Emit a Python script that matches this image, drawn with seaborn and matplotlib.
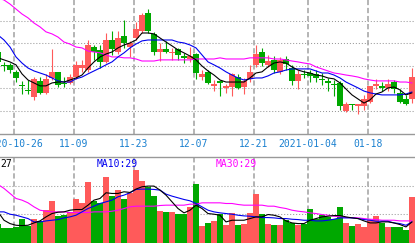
import numpy as np
import pandas as pd
import matplotlib
matplotlib.use("Agg")
import matplotlib.pyplot as plt
import seaborn as sns
from matplotlib.transforms import blended_transform_factory

# ---------------- data ----------------
dates = [d for d in pd.bdate_range("2020-10-21", "2021-01-27") if d != pd.Timestamp("2021-01-01")]

label_dates = ["2020-10-26", "2020-11-09", "2020-11-23", "2020-12-07",
               "2020-12-21", "2021-01-04", "2021-01-18"]
label_texts = ["2020-10-26", "11-09", "11-23", "12-07", "12-21", "2021-01-04", "01-18"]

open_ = [12.61, 12.04, 12.04, 11.73, 11.15, 10.93, 10.62, 11.33, 10.80, 11.46,
         11.73, 11.24, 11.24, 11.50, 11.90, 11.81, 12.83, 12.70, 12.17, 13.14,
         12.61, 13.32, 12.83, 13.23, 13.54, 14.34, 13.41, 12.61, 12.74, 12.57,
         12.74, 12.43, 12.30, 12.52, 11.50, 11.73, 11.11, 11.33, 11.02, 11.06,
         11.50, 11.06, 11.42, 12.04, 12.61, 12.04, 12.26, 11.73, 12.30, 11.90,
         11.33, 11.64, 11.68, 11.64, 11.42, 11.33, 11.19, 11.24, 10.00, 10.31,
         10.22, 10.22, 10.40, 11.11, 11.11, 11.02, 11.28, 10.80, 10.53, 10.53]
close_ = [12.17, 11.99, 11.81, 11.46, 11.11, 10.88, 11.42, 10.80, 11.42, 11.73,
          11.15, 11.19, 11.50, 12.04, 12.04, 12.92, 12.61, 12.17, 13.14, 12.74,
          13.23, 13.01, 13.01, 13.63, 14.25, 13.54, 12.61, 12.74, 12.61, 12.61,
          12.48, 12.35, 12.43, 11.68, 11.64, 11.24, 11.19, 11.24, 11.11, 11.64,
          11.02, 11.33, 11.73, 12.52, 12.12, 12.21, 11.81, 12.26, 12.08, 11.33,
          11.64, 11.59, 11.55, 11.46, 11.37, 11.24, 11.15, 10.22, 10.31, 10.27,
          10.31, 10.53, 11.11, 11.19, 11.02, 11.19, 10.97, 10.40, 10.31, 11.50]
high_ = [12.70, 12.17, 12.12, 11.81, 11.33, 11.37, 11.50, 11.50, 11.64, 12.74,
         11.73, 11.50, 11.64, 12.21, 12.26, 13.14, 12.92, 12.92, 13.45, 13.54,
         13.54, 14.03, 13.10, 13.94, 14.34, 14.51, 13.50, 13.01, 13.10, 12.79,
         12.79, 12.57, 12.83, 12.57, 11.81, 11.81, 11.37, 11.37, 11.19, 11.68,
         11.64, 11.46, 12.04, 12.92, 12.79, 12.48, 12.43, 12.39, 12.43, 12.04,
         11.81, 11.81, 11.81, 11.81, 11.68, 11.46, 11.37, 11.33, 10.40, 10.31,
         10.31, 10.71, 11.11, 11.42, 11.28, 11.42, 11.37, 10.97, 10.71, 11.90]
low_ = [12.08, 11.77, 11.68, 11.28, 10.75, 10.75, 10.49, 10.75, 10.75, 11.37,
        11.06, 11.06, 11.19, 11.42, 11.73, 11.73, 12.26, 11.90, 12.12, 12.48,
        12.52, 12.79, 12.39, 13.14, 13.45, 13.45, 12.48, 12.21, 12.57, 12.26,
        12.26, 12.12, 12.17, 11.42, 11.37, 11.19, 10.88, 10.66, 10.80, 10.66,
        10.97, 10.75, 11.28, 11.95, 11.99, 11.95, 11.68, 11.64, 11.81, 11.15,
        10.97, 11.46, 11.28, 11.28, 11.15, 10.88, 10.66, 10.04, 9.96, 10.04,
        9.87, 10.04, 10.35, 10.97, 10.88, 10.88, 10.80, 10.35, 10.27, 10.35]

ma5 = [12.35, 12.26, 12.17, 12.04, 11.64, 11.37, 11.24, 11.11, 11.11, 11.24,
       11.28, 11.28, 11.37, 11.46, 11.59, 11.90, 12.17, 12.39, 12.52, 12.61,
       12.79, 12.92, 13.01, 13.14, 13.45, 13.45, 13.41, 13.23, 13.05, 12.88,
       12.70, 12.57, 12.43, 12.26, 11.99, 11.77, 11.59, 11.37, 11.28, 11.28,
       11.28, 11.28, 11.46, 11.68, 11.73, 11.95, 12.12, 12.17, 12.12, 11.95,
       11.81, 11.73, 11.68, 11.59, 11.55, 11.46, 11.42, 11.24, 10.97, 10.71,
       10.53, 10.35, 10.49, 10.75, 10.84, 11.02, 11.06, 10.93, 10.71, 10.80]
ma10 = [13.36, 13.14, 12.83, 12.39, 12.12, 11.90, 11.77, 11.68, 11.59, 11.46,
        11.33, 11.28, 11.28, 11.42, 11.50, 11.64, 11.77, 11.90, 12.04, 12.17,
        12.39, 12.57, 12.79, 12.96, 13.10, 13.14, 13.14, 13.14, 13.14, 13.14,
        13.05, 13.01, 12.92, 12.79, 12.48, 12.17, 12.04, 11.90, 11.73, 11.59,
        11.46, 11.37, 11.42, 11.46, 11.46, 11.55, 11.68, 11.73, 11.81, 11.86,
        11.86, 11.86, 11.86, 11.77, 11.68, 11.68, 11.59, 11.46, 11.28, 11.15,
        11.02, 10.88, 10.80, 10.75, 10.71, 10.71, 10.71, 10.71, 10.75, 10.84]
ma30 = [15.00, 14.91, 14.73, 14.51, 14.29, 14.12, 13.89, 13.72, 13.50, 13.41,
        13.27, 13.05, 12.96, 12.83, 12.79, 12.65, 12.61, 12.57, 12.48, 12.39,
        12.39, 12.35, 12.35, 12.30, 12.21, 12.21, 12.21, 12.26, 12.26, 12.26,
        12.26, 12.26, 12.26, 12.30, 12.30, 12.30, 12.30, 12.35, 12.30, 12.30,
        12.30, 12.30, 12.35, 12.35, 12.35, 12.35, 12.30, 12.30, 12.26, 12.21,
        12.17, 12.12, 12.08, 11.95, 11.86, 11.77, 11.68, 11.64, 11.59, 11.55,
        11.50, 11.42, 11.37, 11.33, 11.33, 11.33, 11.33, 11.28, 11.28, 11.24]

vol = [56, 46, 44, 48, 71, 50, 71, 65, 98, 125,
       80, 83, 93, 131, 118, 182, 126, 118, 198, 140,
       158, 131, 148, 218, 185, 168, 140, 95, 93, 93,
       86, 88, 108, 176, 50, 60, 66, 86, 53, 90,
       53, 58, 90, 145, 86, 56, 53, 53, 68, 60,
       53, 56, 101, 71, 83, 78, 73, 107, 60, 50,
       56, 48, 68, 80, 60, 48, 48, 48, 40, 138]
vma5 = [93, 68, 58, 53, 52, 53, 60, 66, 78, 88,
        92, 93, 98, 100, 100, 113, 128, 133, 150, 148,
        148, 153, 151, 161, 168, 170, 170, 158, 143, 123,
        103, 90, 98, 113, 103, 88, 86, 83, 63, 68,
        68, 68, 73, 78, 78, 85, 83, 78, 66, 60,
        58, 58, 68, 73, 78, 80, 82, 82, 78, 75,
        73, 66, 60, 60, 63, 63, 60, 55, 48, 63]
vma10 = [93, 93, 86, 83, 78, 73, 63, 63, 66, 68,
         70, 75, 78, 83, 93, 103, 110, 118, 123, 128,
         138, 143, 150, 160, 161, 161, 160, 158, 146, 140,
         135, 130, 126, 118, 108, 98, 93, 90, 88, 86,
         83, 81, 80, 78, 76, 76, 75, 73, 73, 71,
         70, 68, 68, 66, 66, 68, 71, 75, 75, 75,
         73, 70, 68, 65, 65, 65, 60, 58, 53, 63]
vma30 = [175, 163, 148, 133, 128, 120, 108, 98, 95, 93,
         93, 93, 91, 91, 91, 91, 93, 93, 93, 95,
         98, 103, 108, 110, 110, 110, 110, 112, 113, 113,
         113, 113, 116, 116, 120, 120, 120, 120, 118, 118,
         115, 113, 113, 113, 113, 110, 110, 106, 103, 98,
         95, 93, 90, 88, 85, 83, 80, 78, 76, 76,
         75, 73, 71, 70, 68, 68, 68, 66, 66, 66]

vol_labels = ["27", "MA10:29", "MA30:29"]

# ---------------- style ----------------
sns.set_style("white")
plt.rcParams['font.family'] = ['DejaVu Sans Mono', 'DejaVu Sans']
plt.rcParams['lines.scale_dashes'] = False

RED, GREEN = '#ff5a5a', '#00a800'
BLUE, MAGENTA, BLACK = '#0000f0', '#ff00ff', '#000000'
DATE_BLUE = '#1a80d0'
GRID = '#9a9a9a'
VGRID = '#a8a8a8'

n = len(open_)
idx = np.arange(n)
o = np.array(open_); c = np.array(close_)
up = c >= o
cols = np.where(up, RED, GREEN)
date_pos = [dates.index(pd.Timestamp(d)) - 1/3 for d in label_dates]

W, H = 415, 243
fig = plt.figure(figsize=(W / 100, H / 100), dpi=100)
fig.patch.set_facecolor('white')
ax1 = fig.add_axes([0, (H - 134) / H, 1, 134 / H])
ax2 = fig.add_axes([0, 0, 1, (H - 157.3) / H])
xlim = (1 / 3, 69.5)


def grid(ax, hvals):
    for g in hvals:
        ax.axhline(g, color=GRID, lw=0.75, ls=(0, (0.75, 1.4)), zorder=1, snap=True)
    for d in date_pos:
        ax.axvline(d, color=VGRID, lw=1.2, ls=(0, (3.8, 2.0)), zorder=1, snap=True)


# ---------------- price panel ----------------
grid(ax1, [10, 11, 12, 13, 14])

ax1.vlines(idx, low_, high_, colors=cols, lw=0.8, zorder=2)
body_lo = np.minimum(o, c)
body_h = np.maximum(np.abs(c - o), 0.045)
ax1.bar(idx, body_h, bottom=body_lo, width=0.84, color=cols, linewidth=0, zorder=3)

for series, col in [(ma30, MAGENTA), (ma10, BLUE), (ma5, BLACK)]:
    sns.lineplot(x=idx, y=series, color=col, lw=0.8, ax=ax1, zorder=4, errorbar=None)

ax1.set_xlim(*xlim)
ax1.set_ylim(8.98, 14.91)
ax1.set_xticks([]); ax1.set_yticks([])
ax1.set_xlabel(''); ax1.set_ylabel('')
for s in ['top', 'left', 'right']:
    ax1.spines[s].set_visible(False)
ax1.spines['bottom'].set_color('#999999')
ax1.spines['bottom'].set_linewidth(1.0)

tr = blended_transform_factory(ax1.transData, ax1.transAxes)
for d, t in zip(date_pos, label_texts):
    ax1.text(d, -0.097, t, transform=tr, ha='center', va='baseline',
             color=DATE_BLUE, fontsize=7, clip_on=False)

# ---------------- volume panel ----------------
grid(ax2, [86, 171])

vdf = pd.DataFrame({'i': idx, 'vol': vol, 'dir': np.where(up, 'up', 'down')})
sns.barplot(data=vdf, x='i', y='vol', hue='dir', palette={'up': RED, 'down': GREEN},
            native_scale=True, dodge=False, width=0.84, errorbar=None, legend=False,
            saturation=1, linewidth=0, ax=ax2, zorder=2)

for series, col in [(vma30, MAGENTA), (vma10, BLUE), (vma5, BLACK)]:
    sns.lineplot(x=idx, y=series, color=col, lw=0.8, ax=ax2, zorder=4, errorbar=None)

ax2.set_xlim(*xlim)
ax2.set_ylim(0, 256)
ax2.set_xticks([]); ax2.set_yticks([])
ax2.set_xlabel(''); ax2.set_ylabel('')
for s in ['bottom', 'left', 'right']:
    ax2.spines[s].set_visible(False)
ax2.spines['top'].set_color('#999999')
ax2.spines['top'].set_linewidth(1.0)

for t, xpos, col in zip(vol_labels, [0.0, 97 / 415, 216 / 415], [BLACK, BLUE, MAGENTA]):
    ax2.text(xpos, 0.887, t, transform=ax2.transAxes, ha='left', va='baseline',
             color=col, fontsize=7, zorder=5)

fig.savefig('out.png', dpi=100, facecolor='white')
